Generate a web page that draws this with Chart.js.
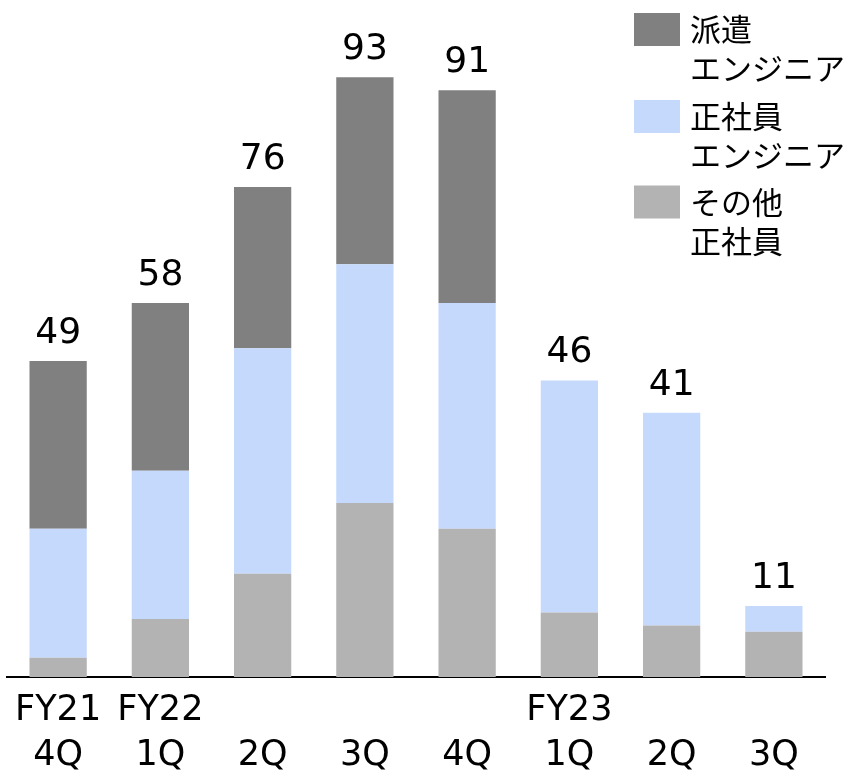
<!DOCTYPE html>
<html><head><meta charset="utf-8">
<script src="https://cdn.jsdelivr.net/npm/chart.js@4"></script>
<style>html,body{margin:0;padding:0;background:#fff}#wrap{width:854px;height:773px;position:relative}</style>
</head><body><div id="wrap"><canvas id="c" width="854" height="773"></canvas></div>
<script>
const categories = [["FY21","4Q"],["FY22","1Q"],["","2Q"],["","3Q"],["","4Q"],["FY23","1Q"],["","2Q"],["","3Q"]];
const seriesNames = [["その他","正社員"],["正社員","エンジニア"],["派遣","エンジニア"]];
const otherStaff = [3, 9, 16, 27, 23, 10, 8, 7];
const fullTimeEngineers = [20, 23, 35, 37, 35, 36, 33, 4];
const dispatchedEngineers = [26, 26, 25, 29, 33, 0, 0, 0];
const totals = [49, 58, 76, 93, 91, 46, 41, 11];
const colors = ["#b3b3b3", "#c5d9fd", "#808080"];

const numFont = "DejaVu Sans, Verdana, sans-serif";
const jpFont = "'Noto Sans CJK JP', 'Noto Sans', sans-serif";

const totalsPlugin = {
  id: 'totals',
  afterDatasetsDraw(chart) {
    const ctx = chart.ctx;
    const meta = chart.getDatasetMeta(2);
    const y = chart.scales.y;
    ctx.save();
    ctx.font = "36px " + numFont;
    ctx.fillStyle = "#000";
    ctx.textAlign = "center";
    ctx.textBaseline = "alphabetic";
    totals.forEach((t, i) => {
      const x = meta.data[i].x;
      ctx.fillText(String(t), x, y.getPixelForValue(t) - 18);
    });
    ctx.restore();
  }
};

const legendPlugin = {
  id: 'customLegend',
  afterDraw(chart) {
    const ctx = chart.ctx;
    ctx.save();
    const order = [2, 1, 0];
    const centers = [29.5, 116.5, 202];
    order.forEach((di, k) => {
      const cy = centers[k];
      ctx.fillStyle = colors[di];
      ctx.fillRect(634, cy - 16.5, 46, 33);
      ctx.fillStyle = "#000";
      ctx.font = "31px " + jpFont;
      ctx.textAlign = "left";
      ctx.textBaseline = "middle";
      seriesNames[di].forEach((line, j) => ctx.fillText(line, 690, cy + j * 39));
    });
    ctx.restore();
  }
};

new Chart(document.getElementById('c'), {
  type: 'bar',
  data: {
    labels: categories,
    datasets: [
      { label: seriesNames[0].join(''), data: otherStaff, backgroundColor: colors[0] },
      { label: seriesNames[1].join(''), data: fullTimeEngineers, backgroundColor: colors[1] },
      { label: seriesNames[2].join(''), data: dispatchedEngineers, backgroundColor: colors[2] }
    ]
  },
  options: {
    responsive: false,
    animation: false,
    devicePixelRatio: 1,
    layout: { padding: { left: 7, right: 29, top: 0, bottom: 0 } },
    plugins: { legend: { display: false }, tooltip: { enabled: false } },
    datasets: { bar: { categoryPercentage: 1, barPercentage: 0.56, borderWidth: 0 } },
    scales: {
      x: {
        stacked: true,
        grid: { display: false, drawTicks: false },
        border: { display: true, color: "#000", width: 2 },
        ticks: { color: "#000", font: { family: numFont, size: 35, lineHeight: 1.28 }, padding: 12, maxRotation: 0, autoSkip: false },
        afterFit(s) { s.height = 96; }
      },
      y: {
        stacked: true, display: false, min: 0, max: 105
      }
    }
  },
  plugins: [totalsPlugin, legendPlugin]
});
</script></body></html>
